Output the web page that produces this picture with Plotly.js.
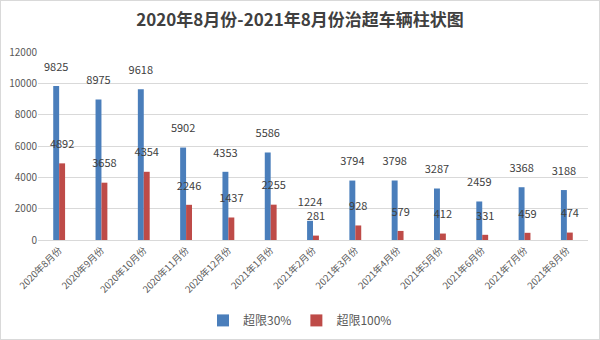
<!DOCTYPE html>
<html><head><meta charset="utf-8">
<script src="https://cdn.plot.ly/plotly-3.0.1.min.js"></script>
<style>html,body{margin:0;padding:0;background:#fff}#chart{width:598px;height:338px;border:1px solid #d9d9d9}</style>
</head><body><div id="chart"></div>
<script>
const categories = ["2020年8月份","2020年9月份","2020年10月份","2020年11月份","2020年12月份","2021年1月份","2021年2月份","2021年3月份","2021年4月份","2021年5月份","2021年6月份","2021年7月份","2021年8月份"];
const over30 = [9825,8975,9618,5902,4353,5586,1224,3794,3798,3287,2459,3368,3188];
const over100 = [4892,3658,4354,2246,1437,2255,281,928,579,412,331,459,474];
const seriesNames = ["超限30%","超限100%"];
const font = "'Noto Sans CJK SC', 'Noto Sans', sans-serif";
const mk = (y, name, color) => ({
  type:'bar', x:categories, y:y, name:name,
  marker:{color:color, line:{width:0}},
  text:y.map(v => v + "<br><span style='font-size:5px'> </span>"), textposition:'outside', cliponaxis:false, constraintext:'none',
  textfont:{size:11, color:'#404040', family:font}
});
Plotly.newPlot('chart', [mk(over30, seriesNames[0], '#4a7ebb'), mk(over100, seriesNames[1], '#be4b48')], {
  width:598, height:338,
  margin:{l:37, r:11, t:51, b:99},
  paper_bgcolor:'#fff', plot_bgcolor:'#fff',
  uniformtext:{mode:false},
  title:{text:'2020年8月份-2021年8月份治超车辆柱状图', x:0.5, xanchor:'center', y:0.945, yanchor:'middle', font:{size:17, color:'#404040', family:font, weight:'bold'}},
  barmode:'group', bargap:0.72, bargroupgap:0,
  xaxis:{tickangle:-45, automargin:false, tickfont:{size:9.5, color:'#595959', family:font}, showline:true, linecolor:'#d9d9d9', ticks:'', fixedrange:true},
  yaxis:{range:[0,12000], dtick:2000, tickformat:'d', automargin:false, tickfont:{size:10, color:'#595959', family:font}, gridcolor:'#d9d9d9', zeroline:false, showline:false, ticks:'', fixedrange:true},
  legend:{orientation:'h', xref:'container', yref:'container', x:0.5, xanchor:'center', y:0.055, yanchor:'middle', font:{size:12, color:'#595959', family:font}, itemwidth:30, traceorder:'normal'},
  showlegend:true
}, {displayModeBar:false, staticPlot:true});
</script></body></html>
